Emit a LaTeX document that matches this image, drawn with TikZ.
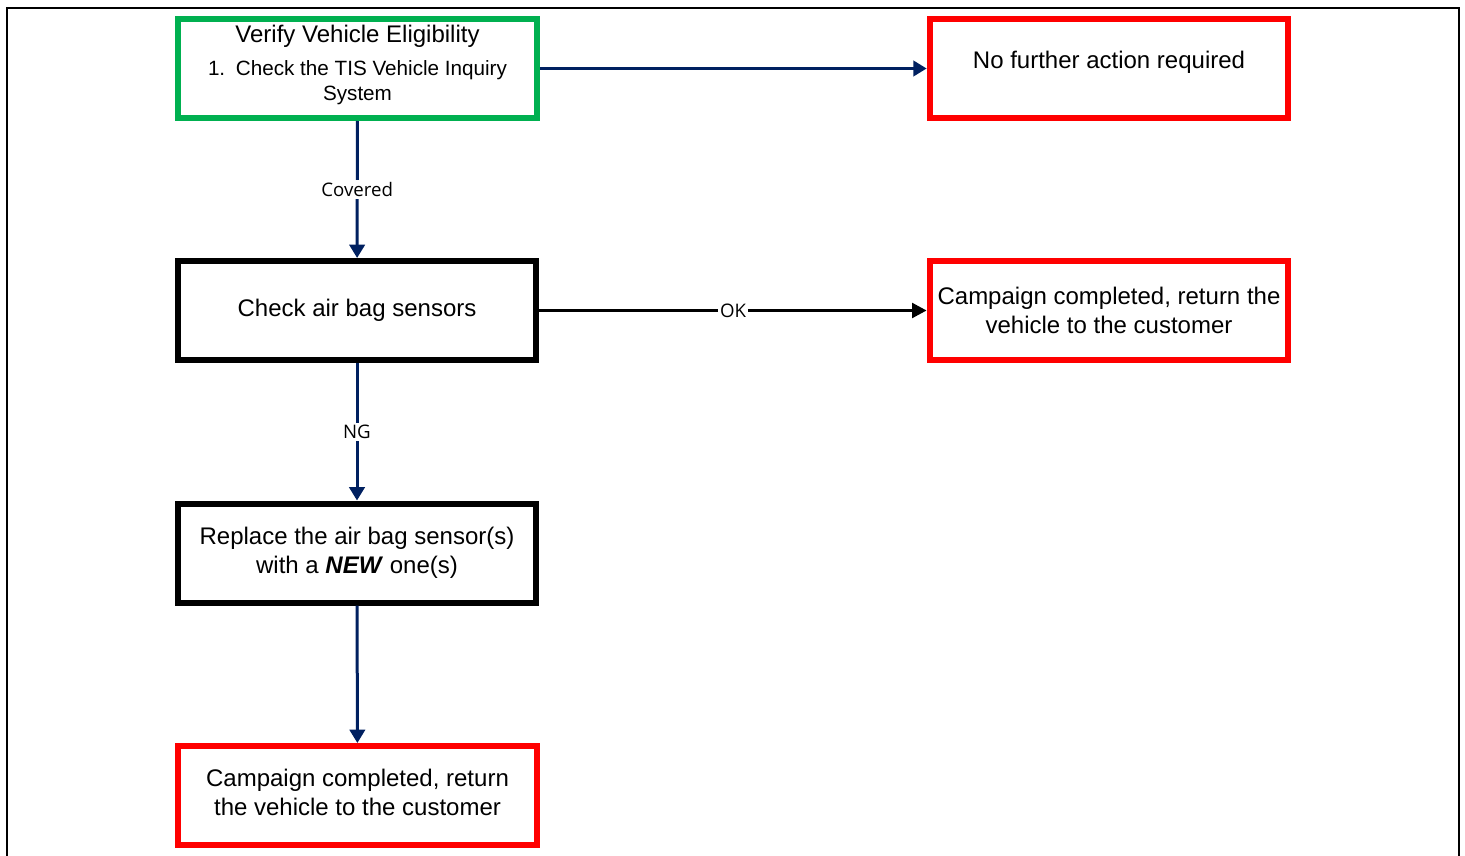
\documentclass[tikz,border=0pt]{standalone}
\usepackage{fontspec}
\setmainfont{Liberation Sans}
\newfontfamily\tagfont{Open Sans}
\usetikzlibrary{arrows.meta,shadows}
\definecolor{navy}{RGB}{0,32,96}
\definecolor{okgreen}{RGB}{0,176,80}
\definecolor{endred}{RGB}{255,0,0}

\begin{document}
\begin{tikzpicture}[
    x=0.75pt, y=-0.75pt,
    box/.style={draw, line width=4.5pt, fill=white,
      minimum width=269pt, minimum height=74.25pt,
      align=center, inner sep=2pt,
      font=\fontsize{18}{21.75}\selectfont,
      drop shadow={shadow xshift=1.5pt, shadow yshift=-1.5pt,
        fill=blue!25, opacity=0.3}},
    flow/.style={draw=navy, line width=2.25pt,
      -{Triangle[length=10pt,width=11.5pt]}},
    okflow/.style={draw=black, line width=2.5pt,
      -{Triangle[length=11pt,width=11pt]}},
    tag/.style={fill=white, inner sep=1.5pt,
      font=\tagfont\fontsize{14}{16}\selectfont}]
  % 画布与外框
  \useasboundingbox (0,0) rectangle (1465,856);
  \draw[line width=1.5pt] (7,857) -- (7,8) -- (1459,8) -- (1459,857);
  % 左列各步骤
  \node[box, draw=okgreen] (verify) at (357.5,68.5)
    {Verify Vehicle Eligibility\\[3pt]
     {\fontsize{15.5}{18.75}\selectfont 1.\hspace{8pt}Check the TIS Vehicle Inquiry}\\[-3pt]
     {\fontsize{15.5}{18.75}\selectfont System\rule[-8.5pt]{0pt}{0pt}}};
  \node[box] (check) at (357,310.5) {Check air bag sensors};
  \node[box] (replace) at (357,553)
    {Replace the air bag sensor(s)\\with a \textbf{\textit{NEW}} one(s)};
  \node[box, draw=endred] (donebottom) at (357.5,795.5)
    {Campaign completed, return\\the vehicle to the customer\rule[-4.5pt]{0pt}{0pt}};
  % 右列结果
  \node[box, draw=endred, text height=13pt, text depth=13pt] (noaction) at (1109,68.5)
    {No further action required};
  \node[box, draw=endred] (doneright) at (1109,310.5)
    {Campaign completed, return the\\vehicle to the customer};
  % 连线
  \draw[flow] (verify) -- (noaction);
  \draw[flow] (verify) -- node[tag] {Covered} (check);
  \draw[okflow] (check) -- node[tag] {OK} (doneright);
  \draw[flow] (check) -- node[tag] {NG} (replace);
  \draw[flow] (replace) -- (donebottom);
\end{tikzpicture}
\end{document}
